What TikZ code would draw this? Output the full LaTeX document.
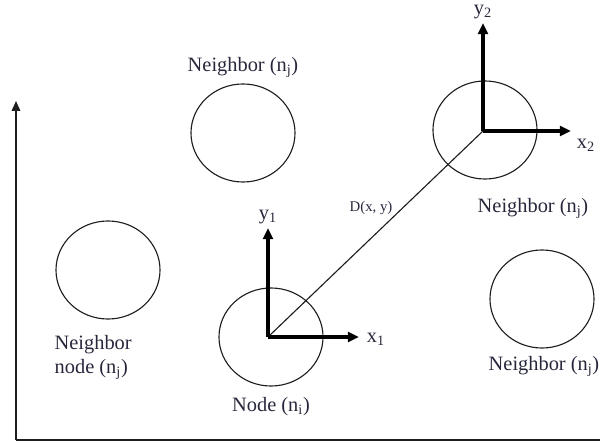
\documentclass[tikz,border=0pt]{standalone}
\usepackage{fontspec}
\setmainfont{Liberation Serif}
\usepackage{tikz}
\usetikzlibrary{shapes.geometric, arrows.meta, positioning}
\definecolor{mydark}{RGB}{30,30,30}
\definecolor{mytext}{RGB}{40,40,60}
\tikzset{
  peer/.style={ellipse, draw=mydark, line width=0.8pt,
    minimum width=2.6cm, minimum height=2.45cm, inner sep=0pt},
  lbl/.style={font=\fontsize{14.5}{16.5}\selectfont, text=mytext, inner sep=1pt},
  smalllbl/.style={font=\fontsize{10.5}{12}\selectfont, text=mytext, inner sep=1pt},
  axis/.style={-{Triangle[length=8pt, width=7pt]}, line width=2.2pt, color=black},
  frame/.style={-{Triangle[length=7pt, width=6pt]}, line width=1.2pt, color=mydark},
  line/.style={line width=0.8pt, color=mydark}
}
\begin{document}
\begin{tikzpicture}[x=0.025cm, y=-0.025cm]
  \useasboundingbox (0,0) rectangle (600,445);
  % Outer frame axes
  \coordinate (corner) at (16,440);
  \coordinate (ytop) at (16,101);
  \coordinate (xend) at (600,440);
  \draw[frame] (corner) -- (ytop);
  \draw[line, line width=1.2pt] (corner) -- (xend);
  % Nodes
  \node[peer] (top) at (243,133) {};
  \node[peer] (left) at (108,270) {};
  \node[peer] (self) at (271,337) {};
  \node[peer] (right) at (542,299) {};
  \node[peer] (far) at (485,130) {};
  % Local axes
  \coordinate (o1) at (268,337);
  \coordinate (o2) at (483,131);
  \coordinate (y1end) at (268,228);
  \coordinate (x1end) at (359,337);
  \coordinate (y2end) at (483,23);
  \coordinate (x2end) at (571,131);
  \draw[line] (o1) -- (o2);
  \draw[axis] (o1) -- (y1end);
  \draw[axis] (o1) -- (x1end);
  \draw[axis] (o2) -- (y2end);
  \draw[axis] (o2) -- (x2end);
  % Labels
  \node[lbl] (ltop) at (243,67) {Neighbor (n\textsubscript{j})};
  \node[lbl] (lfar) at (533,208) {Neighbor (n\textsubscript{j})};
  \node[lbl, align=left, anchor=north west] (lleft) at (53,334) {Neighbor\\node (n\textsubscript{j})};
  \node[lbl] (lself) at (271,407) {Node (n\textsubscript{i})};
  \node[lbl] (lright) at (544,366) {Neighbor (n\textsubscript{j})};
  \node[lbl] (ly1) at (268,217) {y\textsubscript{1}};
  \node[lbl] (lx1) at (376,339) {x\textsubscript{1}};
  \node[lbl] (ly2) at (483,12) {y\textsubscript{2}};
  \node[lbl] (lx2) at (586,145) {x\textsubscript{2}};
  \node[smalllbl] (ldist) at (371,208) {D(x, y)};
\end{tikzpicture}
\end{document}
